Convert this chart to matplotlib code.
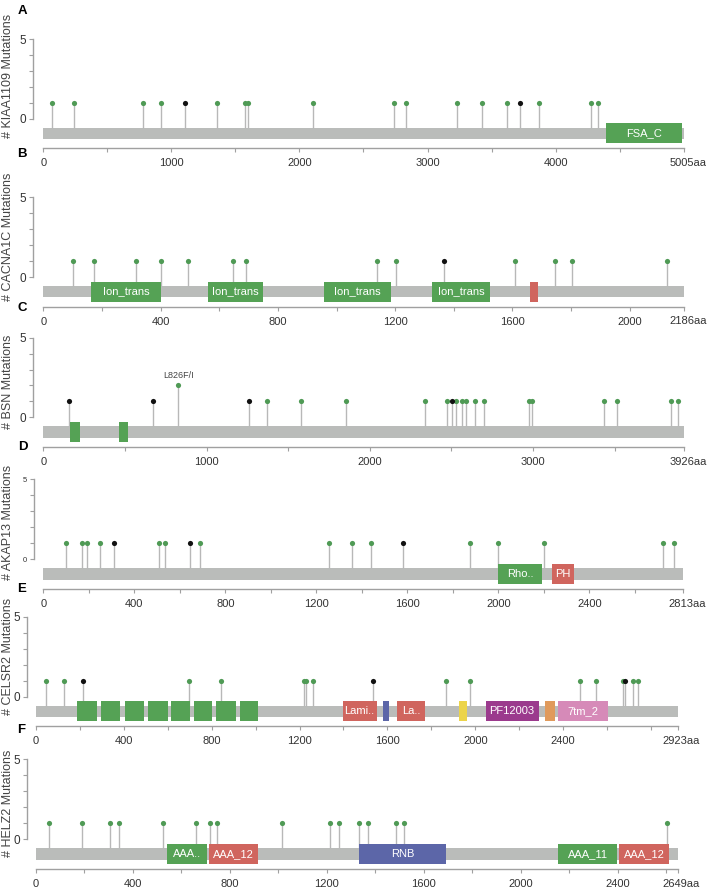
import matplotlib.pyplot as plt
from matplotlib.patches import Rectangle

plt.rcParams['font.family'] = ['Liberation Sans', 'DejaVu Sans']

genes = ["KIAA1109", "CACNA1C", "BSN", "AKAP13", "CELSR2", "HELZ2"]
letters = ["A", "B", "C", "D", "E", "F"]
lengths = [5005, 2186, 3926, 2813, 2923, 2649]
label_step = [1000, 400, 1000, 400, 400, 400]

# mutation positions (aa), counts, truncating (black) flags
mut_pos = [
    [66, 240, 778, 919, 1106, 1354, 1575, 1596, 2108, 2736, 2829, 3228, 3425, 3621, 3720, 3873, 4277, 4333],
    [100, 173, 315, 400, 495, 648, 690, 1139, 1204, 1365, 1609, 1746, 1804, 2126],
    [159, 670, 826, 1262, 1368, 1578, 1852, 2340, 2471, 2505, 2530, 2565, 2591, 2644, 2701, 2975, 2991, 3434, 3516, 3843, 3889],
    [100, 168, 193, 249, 310, 508, 537, 644, 688, 1254, 1356, 1439, 1581, 1874, 2000, 2201, 2725, 2772],
    [44, 129, 215, 697, 843, 1222, 1231, 1261, 1536, 1867, 1977, 2477, 2550, 2674, 2683, 2719, 2743],
    [55, 189, 307, 344, 525, 661, 718, 748, 1016, 1213, 1250, 1333, 1371, 1485, 1518, 2602],
]
mut_black = [
    [1106, 3720],
    [1365],
    [159, 670, 1262, 2505],
    [310, 644, 1581],
    [215, 1536, 2683],
    [],
]
mut_double = {2: {826: "L826F/I"}}

GREEN = "#55a255"
RED = "#d0655e"
BLUE = "#5c66a8"
YELLOW = "#ecd44a"
PURPLE = "#9b3a8d"
ORANGE = "#e09a5c"
PINK = "#d68ab8"

domains = [
    [(4390, 4990, "FSA_C", GREEN)],
    [(162, 401, "Ion_trans", GREEN), (561, 750, "Ion_trans", GREEN), (957, 1185, "Ion_trans", GREEN),
     (1325, 1523, "Ion_trans", GREEN), (1660, 1688, "", RED)],
    [(164, 225, "", GREEN), (462, 521, "", GREEN)],
    [(2000, 2191, "Rho..", GREEN), (2235, 2333, "PH", RED)],
    [(186, 278, "", GREEN), (296, 384, "", GREEN), (405, 493, "", GREEN), (511, 600, "", GREEN),
     (615, 701, "", GREEN), (718, 803, "", GREEN), (821, 909, "", GREEN), (929, 1012, "", GREEN),
     (1396, 1551, "Lami..", RED), (1578, 1607, "", BLUE), (1645, 1770, "La..", RED),
     (1924, 1964, "", YELLOW), (2047, 2289, "PF12003", PURPLE), (2318, 2362, "", ORANGE),
     (2378, 2604, "7tm_2", PINK)],
    [(539, 704, "AAA..", GREEN), (714, 915, "AAA_12", RED), (1333, 1692, "RNB", BLUE),
     (2153, 2399, "AAA_11", GREEN), (2407, 2613, "AAA_12", RED)],
]

# layout in pixels (from top-left)
W, H = 708, 893
y5_px = [39, 197.3, 337.7, 479, 616.7, 759]
y0_px = [118.7, 277, 417.3, 559.3, 696.7, 839.3]
x0_px = [43.3, 43.3, 43.3, 43.3, 36, 36]
x1_px = [684.3, 684.3, 684.3, 683.3, 678, 678]
yax_px = [33.3, 33.3, 33.3, 34.3, 26.7, 26.7]
ylab_y = [76, 237, 382, 522, 656, 803]
let_xy = [(22.5, 10.5), (21.7, 153.7), (22, 308.3), (23, 447.2), (21.7, 589), (20.8, 730)]
end_dx = [4.0, 3.5, 3.5, 3.5, 3.5, 3.5]

fig = plt.figure(figsize=(W / 100, H / 100), dpi=100)
axis_col = "#a0a0a0"
stem_col = "#b8b8b8"
bar_col = "#babcba"

for i in range(6):
    L = lengths[i]
    y5, y0 = y5_px[i], y0_px[i]
    x0, x1, xa = x0_px[i], x1_px[i], yax_px[i]
    u = (y0 - y5) / 5
    s = L / (x1 - x0)
    top_px, bot_px, right_px = y5 - 14, y0 + 42, x1 + 8
    ax = fig.add_axes([xa / W, 1 - bot_px / H, (right_px - xa) / W, (bot_px - top_px) / H])
    ax.set_xlim((xa - x0) * s, (right_px - x0) * s)
    ax.set_ylim(-(bot_px - y0) / u, (y0 - top_px) / u)
    ax.patch.set_visible(False)

    bar_top, bar_bot = -9 / u, -20.3 / u
    dom_top, dom_bot = -4.5 / u, -24.5 / u
    axis_y = -29.5 / u

    # protein bar
    ax.add_patch(Rectangle((0, bar_bot), L, bar_top - bar_bot, color=bar_col, lw=0, zorder=1))
    for a, b, name, c in domains[i]:
        ax.add_patch(Rectangle((a, dom_bot), b - a, dom_top - dom_bot, color=c, lw=0, zorder=3))
        if name:
            ax.text((a + b) / 2, (dom_top + dom_bot) / 2, name, color="white", fontsize=8,
                    ha="center", va="center", zorder=4)

    # lollipops
    counts = [2 if p in mut_double.get(i, {}) else 1 for p in mut_pos[i]]
    ax.vlines(mut_pos[i], bar_top, counts, color=stem_col, lw=1, zorder=2)
    greens = [(p, c) for p, c in zip(mut_pos[i], counts) if p not in mut_black[i]]
    blacks = [(p, c) for p, c in zip(mut_pos[i], counts) if p in mut_black[i]]
    ax.scatter([p for p, c in greens], [c for p, c in greens], s=14, color="#4f9a55", lw=0, zorder=5)
    ax.scatter([p for p, c in blacks], [c for p, c in blacks], s=14, color="#111111", lw=0, zorder=6)
    for p, lab in mut_double.get(i, {}).items():
        ax.annotate(lab, (p, 2), xytext=(0, 4), textcoords="offset points", ha="center",
                    va="bottom", fontsize=6.5, color="#444444")

    # axes
    for sp in ["top", "right"]:
        ax.spines[sp].set_visible(False)
    ax.spines["left"].set_bounds(0, 5)
    ax.spines["bottom"].set_position(("data", axis_y))
    ax.spines["bottom"].set_bounds(0, L)
    for sp in ["left", "bottom"]:
        ax.spines[sp].set_color(axis_col)
        ax.spines[sp].set_linewidth(1)

    ax.set_yticks(range(6))
    ax.set_yticklabels(["0", "", "", "", "", "5"])
    ax.tick_params(axis="y", length=3, pad=2, color=axis_col, labelcolor="#333333",
                   labelsize=5.5 if i == 3 else 8.5)

    minor = label_step[i] // 2
    ticks = [t for t in range(0, L, minor) if L - t > 0.01 * L] + [L]
    labels = [str(t) if t % label_step[i] == 0 and L - t > 0.06 * L else "" for t in ticks]
    ax.set_xticks(ticks)
    ax.set_xticklabels(labels)
    ax.tick_params(axis="x", length=3, pad=4.3, color=axis_col, labelcolor="#333333", labelsize=8)
    ax.annotate(f"{L}aa", (L, axis_y), xytext=(end_dx[i] * 0.72, -7.2), textcoords="offset points",
                ha="center", va="top", fontsize=8, color="#333333", annotation_clip=False)

    fig.text(8.5 / W, 1 - ylab_y[i] / H, f"# {genes[i]} Mutations", rotation=90,
             ha="center", va="center", fontsize=9, color="#444444")
    lx, ly = let_xy[i]
    fig.text(lx / W, 1 - ly / H, letters[i], ha="center", va="center", fontsize=9.5,
             fontweight="bold", color="black")

fig.savefig("out.png", dpi=100)
